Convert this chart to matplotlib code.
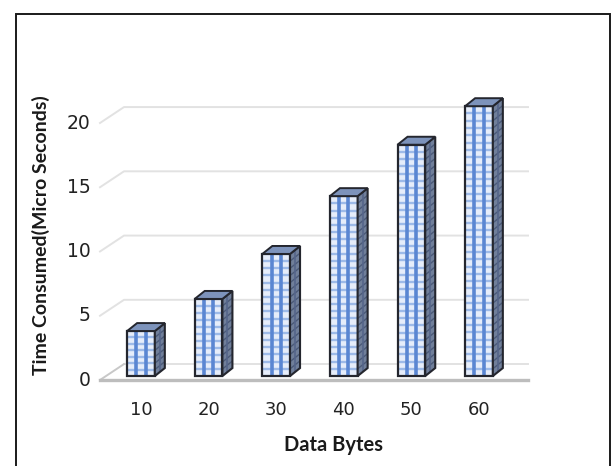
import matplotlib
matplotlib.use("Agg")
import matplotlib.pyplot as plt
from matplotlib.patches import Polygon, Rectangle
from matplotlib.transforms import ScaledTranslation

categories = ["10", "20", "30", "40", "50", "60"]
values = [3.5, 6, 9.5, 14, 18, 21]
yticks = [0, 5, 10, 15, 20]
xlabel = "Data Bytes"
ylabel = "Time Consumed(Micro Seconds)"

W, H = 614, 466
fig = plt.figure(figsize=(W / 100, H / 100), dpi=100, facecolor="white")
ax = fig.add_axes([100 / W, 1 - 380 / H, 428 / W, 280 / H])
ax.set_xlim(-0.606, 5.725)
ax.set_ylim(-0.31, 21.48)
for s in ax.spines.values():
    s.set_visible(False)
ax.patch.set_visible(False)

ytr = ax.get_yaxis_transform()
back_x = 24 / 428
back_up = 0.93
front_dn = -0.31
grid_c = "#e2e2e2"
for v in yticks[1:]:
    ax.plot([0, back_x, 1], [v + front_dn, v + back_up, v + back_up], transform=ytr,
            color=grid_c, lw=1.4, zorder=1, clip_on=False)
ax.plot([back_x, 1], [back_up, back_up], transform=ytr, color=grid_c, lw=1.4, zorder=1, clip_on=False)
ax.plot([0, back_x], [front_dn, back_up], transform=ytr, color="#c8c8c8", lw=1.4, zorder=1, clip_on=False)
ax.plot([0, 1], [front_dn, front_dn], transform=ytr, color="#bdbdbd", lw=2.4, zorder=1, clip_on=False)

bw = 0.41
dx = 10 / 67.6
dy = 0.62
edge = "#24262e"
for i, v in enumerate(values):
    l, r = i - bw / 2, i + bw / 2
    z = 3 + i
    ax.add_patch(Rectangle((l, 0), bw, v, facecolor="#e6edfa", edgecolor="none", zorder=z, clip_on=False))
    n = int(v / 0.58)
    for k in range(1, n + 1):
        yy = k * v / (n + 1)
        ax.plot([l, r], [yy, yy], color="#9dbae8", lw=1.7, zorder=z, solid_capstyle="butt", clip_on=False)
    for f in (1 / 3, 2 / 3):
        xx = l + f * bw
        ax.plot([xx, xx], [0, v], color="#5a86d2", lw=2.6, zorder=z, solid_capstyle="butt", clip_on=False)
    ax.add_patch(Rectangle((l, 0), bw, v, facecolor="none", edgecolor=edge, lw=1.6, zorder=z, clip_on=False))
    ax.add_patch(Polygon([[r, 0], [r + dx, dy], [r + dx, v + dy], [r, v]],
                         facecolor="#707f9a", edgecolor="none", zorder=z, clip_on=False))
    for k in range(1, n + 1):
        yy = k * v / (n + 1)
        ax.plot([r, r + dx], [yy, yy + dy], color="#4b5a78", lw=1.0, zorder=z, solid_capstyle="butt", clip_on=False)
    ax.plot([r + dx / 2] * 2, [dy / 2, v + dy / 2], color="#55658a", lw=1.2, zorder=z, solid_capstyle="butt", clip_on=False)
    ax.add_patch(Polygon([[r, 0], [r + dx, dy], [r + dx, v + dy], [r, v]],
                         facecolor="none", edgecolor=edge, lw=1.5, zorder=z, clip_on=False))
    ax.add_patch(Polygon([[l, v], [l + dx, v + dy], [r + dx, v + dy], [r, v]],
                         facecolor="#7d93bb", edgecolor=edge, lw=1.4, zorder=z, clip_on=False))

ax.set_xticks(range(len(categories)))
ax.set_xticklabels(categories, fontsize=13, color="#222222")
ax.set_yticks(yticks)
ax.set_yticklabels([str(t) for t in yticks], fontsize=13.5, color="#222222")
ax.tick_params(axis="both", length=0)
ax.tick_params(axis="x", pad=15)
ax.tick_params(axis="y", pad=7)
shift = ScaledTranslation(0, -2 / 100, fig.dpi_scale_trans)
for lab in ax.get_yticklabels():
    lab.set_transform(lab.get_transform() + shift)

fig.text(333 / W, 1 - 445 / H, xlabel, ha="center", va="center", fontsize=14.5,
         fontweight="bold", family="Lato", color="#1a1a1a")
fig.text(41 / W, 1 - 235 / H, ylabel, ha="center", va="center", rotation=90, fontsize=14,
         fontweight="bold", family="Lato", color="#1a1a1a")

fig.add_artist(Rectangle((15.5 / W, -0.02), (609.5 - 15.5) / W, 1 - 13.5 / H + 0.02,
                         transform=fig.transFigure, facecolor="none", edgecolor="#1a1a1a", lw=1.4))

fig.savefig("out.png", dpi=100, facecolor="white")
